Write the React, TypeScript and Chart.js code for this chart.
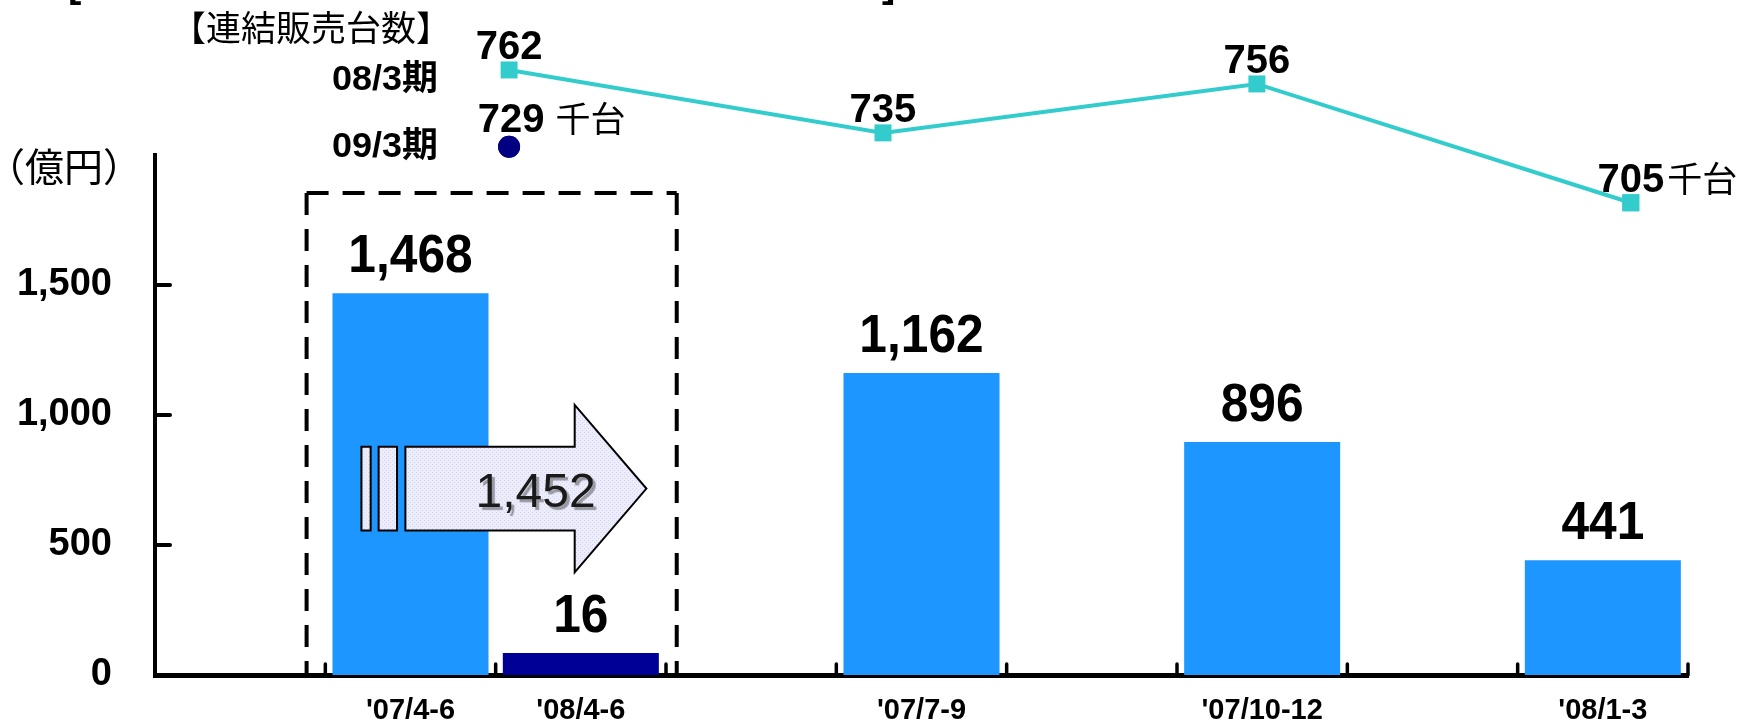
import React, { useEffect, useRef } from 'react';
import { Chart, registerables } from 'chart.js';

Chart.register(...registerables);

// ---- data ----
const categories = ['', "'07/4-6", "'08/4-6", '', "'07/7-9", '', "'07/10-12", '', "'08/1-3"];
const salesValues: (number | null)[] = [null, 1468, 16, null, 1162, null, 896, null, 441];
const highlightIndex = 2;
const unitQuarterIndex = [0, 1, 2, 3];
const units0803 = [762, 735, 756, 705];
const units0903 = [729];
const yTicks = [0, 500, 1000, 1500];
const transferValue = 1452;

const FONT = "'Liberation Sans', Arial, 'Noto Sans CJK JP', sans-serif";
const CJK = "'Noto Sans CJK JP', 'Liberation Sans', sans-serif";

const fmt = (v: number) => v.toLocaleString('en-US');

function drawText(
  ctx: CanvasRenderingContext2D,
  s: string,
  x: number,
  y: number,
  font: string,
  align: CanvasTextAlign = 'center',
  sx = 1,
  color = '#000'
) {
  ctx.save();
  ctx.font = font;
  ctx.fillStyle = color;
  ctx.textAlign = align;
  ctx.textBaseline = 'alphabetic';
  ctx.translate(x, y);
  ctx.scale(sx, 1);
  ctx.fillText(s, 0, 0);
  ctx.restore();
}

function textWidth(ctx: CanvasRenderingContext2D, s: string, font: string) {
  ctx.save();
  ctx.font = font;
  const w = ctx.measureText(s).width;
  ctx.restore();
  return w;
}

function makePattern(ctx: CanvasRenderingContext2D) {
  const c = document.createElement('canvas');
  c.width = 4;
  c.height = 4;
  const p = c.getContext('2d')!;
  p.fillStyle = '#ECECFA';
  p.fillRect(0, 0, 4, 4);
  p.fillStyle = '#D2D5F2';
  p.fillRect(0, 0, 1, 1);
  p.fillRect(2, 2, 1, 1);
  return ctx.createPattern(c, 'repeat');
}

const annotations = {
  id: 'annotations',
  afterDatasetsDraw(chart: any) {
    const ctx: CanvasRenderingContext2D = chart.ctx;
    const x = chart.scales.x;
    const y = chart.scales.y;
    const area = chart.chartArea;
    const w = x.getPixelForValue(1) - x.getPixelForValue(0);
    const c1 = x.getPixelForValue(1);
    const c2 = x.getPixelForValue(2);
    const py = (v: number) => y.getPixelForValue(v);
    const full = { left: 0, top: 0, right: chart.width, bottom: chart.height };

    // line markers that lie above the plot area
    [1, 2].forEach((di) => {
      chart.getDatasetMeta(di).data.forEach((el: any) => el.draw(ctx, full));
    });

    // inward tick marks
    ctx.save();
    ctx.strokeStyle = '#000';
    ctx.lineCap = 'round';
    ctx.lineWidth = 4;
    yTicks.forEach((v) => {
      if (v === 0) return;
      ctx.beginPath();
      ctx.moveTo(area.left, py(v));
      ctx.lineTo(area.left + 15, py(v));
      ctx.stroke();
    });
    ctx.lineWidth = 3.5;
    for (let i = 0; i < categories.length; i++) {
      const bx = x.getPixelForValue(i) + w / 2;
      ctx.beginPath();
      ctx.moveTo(bx, area.bottom - 11);
      ctx.lineTo(bx, area.bottom);
      ctx.stroke();
    }
    ctx.restore();

    // dashed box
    ctx.save();
    ctx.strokeStyle = '#000';
    ctx.lineWidth = 4;
    ctx.setLineDash([22, 14]);
    const bl = c1 - 0.61 * w;
    const br = c2 + 0.563 * w;
    const bt = py(1854);
    const bb = area.bottom;
    ctx.beginPath();
    ctx.moveTo(bl, bt);
    ctx.lineTo(br, bt);
    ctx.stroke();
    ctx.beginPath();
    ctx.moveTo(bl, bt);
    ctx.lineTo(bl, bb);
    ctx.stroke();
    ctx.beginPath();
    ctx.moveTo(br, bt);
    ctx.lineTo(br, bb);
    ctx.stroke();
    ctx.restore();

    // arrow
    const pat = makePattern(ctx) || '#ECECFA';
    const bodyTop = py(878);
    const bodyBot = py(556);
    const headTop = py(1039);
    const headBot = py(395);
    const tipY = (bodyTop + bodyBot) / 2;
    const bodyL = c1 - 0.03 * w;
    const headX = c2 - 0.036 * w;
    const tipX = c2 + 0.385 * w;
    ctx.save();
    ctx.fillStyle = pat as any;
    ctx.strokeStyle = '#000';
    ctx.lineWidth = 2;
    ctx.lineJoin = 'miter';
    ctx.beginPath();
    ctx.moveTo(bodyL, bodyTop);
    ctx.lineTo(headX, bodyTop);
    ctx.lineTo(headX, headTop);
    ctx.lineTo(tipX, tipY);
    ctx.lineTo(headX, headBot);
    ctx.lineTo(headX, bodyBot);
    ctx.lineTo(bodyL, bodyBot);
    ctx.closePath();
    ctx.fill();
    ctx.stroke();
    const rects = [
      [c1 - 0.288 * w, c1 - 0.234 * w],
      [c1 - 0.187 * w, c1 - 0.079 * w],
    ];
    rects.forEach(([l, r]) => {
      ctx.beginPath();
      ctx.rect(l, bodyTop, r - l, bodyBot - bodyTop);
      ctx.fill();
      ctx.stroke();
    });
    ctx.restore();
    ctx.save();
    ctx.shadowColor = 'rgba(0,0,0,0.35)';
    ctx.shadowOffsetX = 3;
    ctx.shadowOffsetY = 3;
    ctx.shadowBlur = 1;
    drawText(ctx, fmt(transferValue), c2 - 0.266 * w, py(645), `48px ${FONT}`, 'center', 1, '#1a1a1a');
    ctx.restore();

    // bar value labels
    const barMeta = chart.getDatasetMeta(0);
    salesValues.forEach((v, i) => {
      if (v == null) return;
      const el = barMeta.data[i];
      drawText(ctx, fmt(v), el.x, el.y - 21, `bold 54px ${FONT}`, 'center', 0.92);
    });

    // line labels
    const lineMeta = chart.getDatasetMeta(1);
    const numFont = `bold 40px ${FONT}`;
    units0803.forEach((v, i) => {
      const el = lineMeta.data[i];
      const s = String(v);
      drawText(ctx, s, el.x, el.y - 11, numFont, 'center');
      if (i === units0803.length - 1) {
        const tw = textWidth(ctx, s, numFont);
        drawText(ctx, '千台', el.x + tw / 2 + 3, el.y - 11, `35px ${CJK}`, 'left');
      }
    });
    const dotMeta = chart.getDatasetMeta(2);
    units0903.forEach((v, i) => {
      const el = dotMeta.data[i];
      const s = String(v);
      const cx = el.x + 2;
      drawText(ctx, s, cx, el.y - 15, numFont, 'center');
      const tw = textWidth(ctx, s, numFont);
      drawText(ctx, '千台', cx + tw / 2 + 11, el.y - 15, `35px ${CJK}`, 'left');
    });

    // left side captions
    drawText(ctx, '【連結販売台数】', 311, 41, `35px ${CJK}`, 'center');
    const pf = `bold 35px ${FONT}`;
    const s1 = '08/3期';
    const s2 = '09/3期';
    drawText(ctx, s1, 438, 90, pf, 'right', 106 / textWidth(ctx, s1, pf));
    drawText(ctx, s2, 438, 157, pf, 'right', 106 / textWidth(ctx, s2, pf));
    drawText(ctx, '（億円）', 64, 181, `39px ${CJK}`, 'center');

    // cut-off title brackets
    drawText(ctx, '[', 68, -3, `bold 40px ${FONT}`, 'left');
    drawText(ctx, ']', 882, -3, `bold 40px ${FONT}`, 'left');
  },
};

export default function App() {
  const ref = useRef<HTMLCanvasElement | null>(null);

  useEffect(() => {
    document.body.style.margin = '0';
    const canvas = ref.current!;
    const chart = new Chart(canvas, {
      type: 'bar',
      data: {
        labels: categories,
        datasets: [
          {
            type: 'bar',
            label: '売上高',
            data: salesValues as any,
            backgroundColor: (c: any) => (c.dataIndex === highlightIndex ? '#000096' : '#1E96FF'),
            barPercentage: 0.916,
            categoryPercentage: 1,
            grouped: false,
            minBarLength: 22,
            xAxisID: 'x',
            yAxisID: 'y',
          } as any,
          {
            type: 'line',
            label: '08/3期',
            data: units0803.map((v, i) => ({ x: unitQuarterIndex[i], y: v })),
            borderColor: '#33CCCC',
            backgroundColor: '#33CCCC',
            borderWidth: 4,
            pointStyle: 'rect',
            pointRadius: 12,
            pointBorderWidth: 0,
            pointBackgroundColor: '#33CCCC',
            xAxisID: 'x2',
            yAxisID: 'y2',
            clip: false,
          } as any,
          {
            type: 'line',
            label: '09/3期',
            data: units0903.map((v, i) => ({ x: unitQuarterIndex[i], y: v })),
            showLine: false,
            pointStyle: 'circle',
            pointRadius: 11,
            pointBorderWidth: 0,
            pointBackgroundColor: '#000080',
            xAxisID: 'x2',
            yAxisID: 'y2',
            clip: false,
          } as any,
        ],
      },
      options: {
        responsive: false,
        animation: false,
        devicePixelRatio: 1,
        events: [],
        layout: { padding: { top: 155, right: 57, bottom: 0, left: 0 } },
        plugins: {
          legend: { display: false },
          tooltip: { enabled: false },
          title: { display: false },
        },
        scales: {
          x: {
            type: 'category',
            offset: true,
            z: 1,
            grid: { display: false, drawTicks: false },
            border: { display: true, color: '#000', width: 5 },
            ticks: {
              color: '#000',
              font: { family: FONT, size: 29, weight: 'bold' },
              padding: 19,
              maxRotation: 0,
              autoSkip: false,
            },
            afterFit: (s: any) => {
              s.height = 48;
            },
          },
          y: {
            type: 'linear',
            min: 0,
            max: 2000,
            z: 1,
            grid: { display: false, drawTicks: false },
            border: { display: true, color: '#000', width: 4 },
            ticks: {
              color: '#000',
              font: { family: FONT, size: 38, weight: 'bold' },
              padding: 43,
              callback: (v: any) => fmt(Number(v)),
            },
            afterBuildTicks: (s: any) => {
              s.ticks = yTicks.map((v) => ({ value: v }));
            },
            afterFit: (s: any) => {
              s.width = 155;
              s.paddingTop = 0;
              s.paddingBottom = 0;
            },
          },
          x2: {
            type: 'linear',
            display: false,
            offset: false,
            min: -0.947,
            max: 3.153,
          },
          y2: {
            type: 'linear',
            display: false,
            min: 502.3,
            max: 725.5,
          },
        },
      } as any,
      plugins: [annotations],
    });
    return () => chart.destroy();
  }, []);

  return (
    <div style={{ position: 'absolute', left: 0, top: 0, width: 1745, height: 723, background: '#fff' }}>
      <canvas ref={ref} width={1745} height={723} style={{ width: 1745, height: 723, display: 'block' }} />
    </div>
  );
}
